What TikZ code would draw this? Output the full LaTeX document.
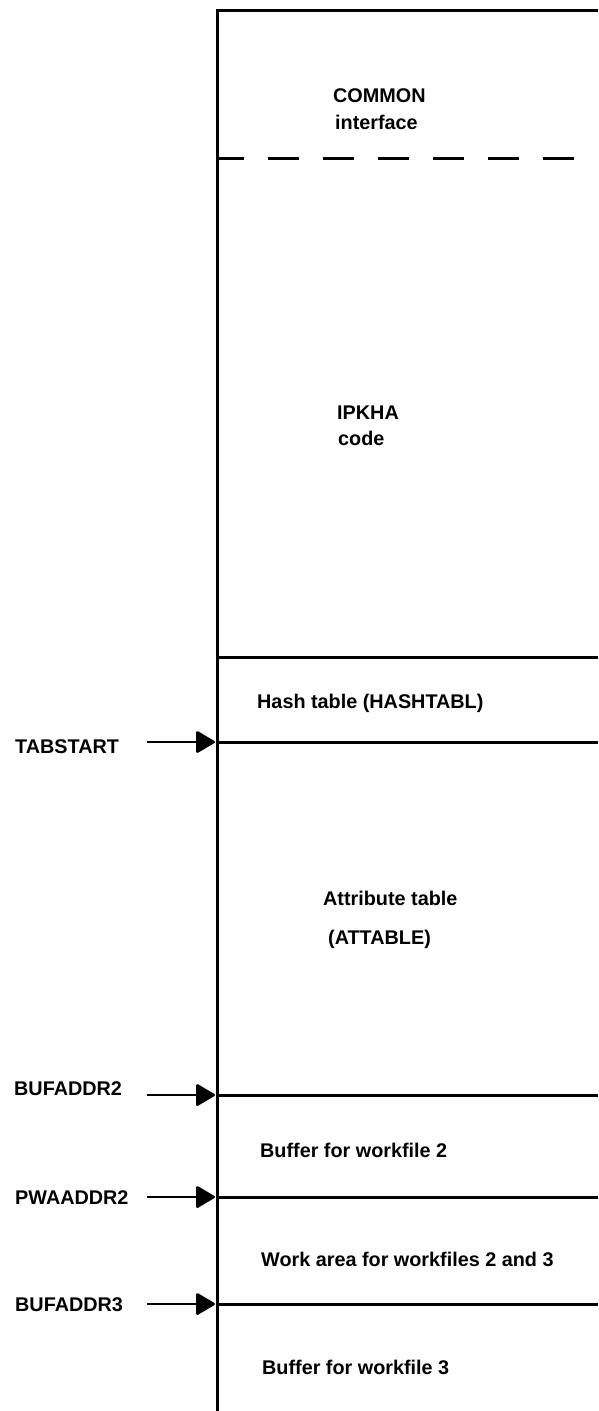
\documentclass[tikz,border=0pt]{standalone}
\usepackage{fontspec}
\setmainfont{Liberation Sans}
\usetikzlibrary{arrows.meta}
\tikzset{
  rule/.style={line width=3pt},
  dashrule/.style={line width=3pt, dash pattern=on 31pt off 24pt, dash phase=4pt},
  lbl/.style={anchor=base west, inner sep=0pt, font=\fontsize{19.8}{22}\selectfont\bfseries},
  ptr/.style={line width=2.4pt, -{Triangle[length=20pt,width=23pt,round]}}
}
\begin{document}
\begin{tikzpicture}[x=1pt,y=-1pt]
\useasboundingbox (0,0) rectangle (598,1411);
% frame
\coordinate (tl) at (217,10);
\coordinate (tr) at (598,10);
\coordinate (bl) at (217,1411);
\draw[rule] (tr) -- (tl) -- (bl);
% dashed separator
\coordinate (d1) at (217,158);
\coordinate (d2) at (574,158);
\draw[dashrule] (d1) -- (d2);
% solid separators
\foreach \n/\y in {h1/657, h2/742, h3/1095, h4/1197, h5/1304}{
  \coordinate (\n L) at (217,\y);
  \coordinate (\n R) at (598,\y);
  \draw[rule] (\n L) -- (\n R);
}
% region texts
\node[lbl] (common) at (333,102) {COMMON};
\node[lbl] (iface) at (335,129) {interface};
\node[lbl] (ipkha) at (337,419) {IPKHA};
\node[lbl] (code) at (338,445) {code};
\node[lbl] (hash) at (257,708) {Hash table (HASHTABL)};
\node[lbl] (attr) at (323,905) {Attribute table};
\node[lbl] (attable) at (328,944) {(ATTABLE)};
\node[lbl] (buf2) at (260,1157) {Buffer for workfile 2};
\node[lbl] (work) at (261,1266) {Work area for workfiles 2 and 3};
\node[lbl] (buf3) at (262,1374) {Buffer for workfile 3};
% pointer labels
\node[lbl] (tabstart) at (15,753) {TABSTART};
\node[lbl] (bufaddr2) at (14,1095) {BUFADDR2};
\node[lbl] (pwaaddr2) at (15,1204) {PWAADDR2};
\node[lbl] (bufaddr3) at (15,1311) {BUFADDR3};
% pointer arrows
\foreach \n/\y in {a1/742, a2/1095, a3/1197, a4/1304}{
  \coordinate (\n s) at (147,\y);
  \coordinate (\n e) at (215,\y);
  \draw[ptr] (\n s) -- (\n e);
}
\end{tikzpicture}
\end{document}
